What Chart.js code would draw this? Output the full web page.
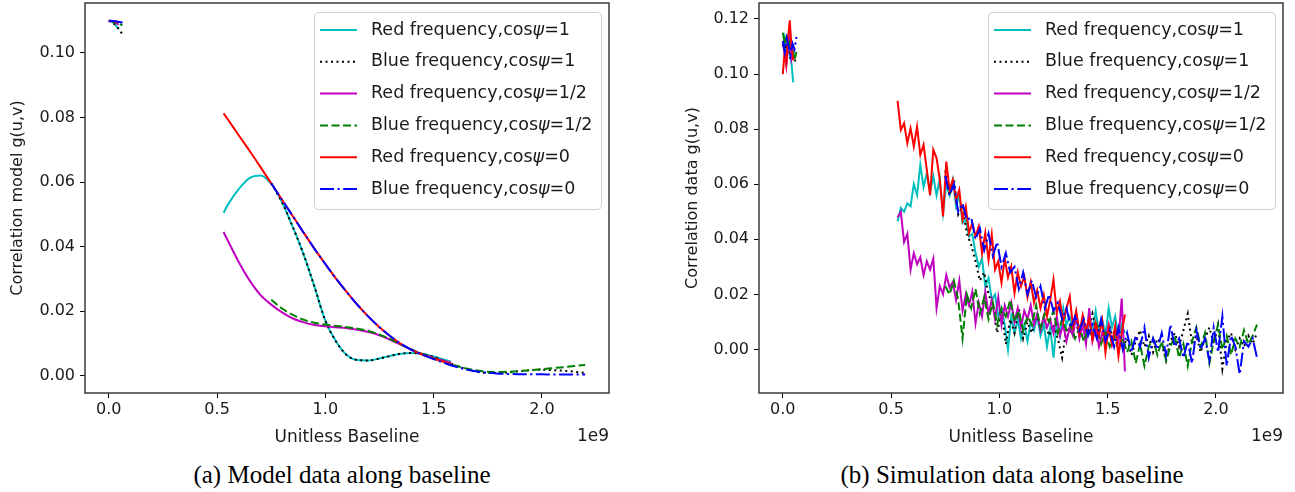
<!DOCTYPE html>
<html><head><meta charset="utf-8">
<script src="https://cdn.jsdelivr.net/npm/chart.js@4.4.0/dist/chart.umd.min.js"></script>
<style>
html,body{margin:0;padding:0;background:#fff;width:1295px;height:492px;overflow:hidden;position:relative;}
#c1{position:absolute;left:0;top:0;width:640px;height:450px;}
#c2{position:absolute;left:672px;top:0;width:623px;height:450px;}
.cap{position:absolute;top:461px;font-family:"Liberation Serif",serif;font-size:25px;color:#000;white-space:nowrap;transform:translateX(-50%);line-height:28px;}
</style></head><body>
<canvas id="c1" width="640" height="450"></canvas>
<canvas id="c2" width="623" height="450"></canvas>
<div class="cap" style="left:342px">(a) Model data along baseline</div>
<div class="cap" style="left:1012px">(b) Simulation data along baseline</div>
<script>
// ---------- labels / ticks ----------
const SERIES_LABELS = ['Red frequency,cosψ=1','Blue frequency,cosψ=1','Red frequency,cosψ=1/2','Blue frequency,cosψ=1/2','Red frequency,cosψ=0','Blue frequency,cosψ=0'];
const X_TICKS = [0, 0.5, 1.0, 1.5, 2.0];          // in units of 1e9
const Y_TICKS_MODEL = [0, 0.02, 0.04, 0.06, 0.08, 0.10];
const Y_TICKS_SIM = [0, 0.02, 0.04, 0.06, 0.08, 0.10, 0.12];

// ---------- model data (x in 1e9) ----------
const MODEL_SMALL_RED_X  = [0, 0.015, 0.03, 0.045];
const MODEL_SMALL_BLUE_X = [0, 0.021, 0.042, 0.063];
const MODEL_RED_X  = [0.53,0.55,0.6,0.65,0.7,0.75,0.8,0.85,0.9,0.95,1.0,1.05,1.1,1.15,1.2,1.25,1.3,1.35,1.4,1.45,1.5,1.55,1.58];
const MODEL_BLUE_X = [0.75,0.8,0.85,0.9,0.95,1.0,1.05,1.1,1.15,1.2,1.25,1.3,1.35,1.4,1.45,1.5,1.55,1.6,1.65,1.7,1.75,1.8,1.85,1.9,1.95,2.0,2.05,2.1,2.15,2.2];

const MODEL_SMALL_R1  = [0.1100,0.1096,0.1087,0.1074];
const MODEL_SMALL_B1  = [0.1100,0.1092,0.1078,0.1058];
const MODEL_SMALL_R12 = [0.1100,0.1098,0.1094,0.1088];
const MODEL_SMALL_B12 = [0.1100,0.1097,0.1092,0.1086];
const MODEL_SMALL_R0  = [0.1100,0.1099,0.1098,0.1096];
const MODEL_SMALL_B0  = [0.1100,0.1099,0.1097,0.1094];

const MODEL_R1  = [0.0505,0.0530,0.0578,0.0612,0.0620,0.0594,0.0537,0.0460,0.0375,0.0275,0.0170,0.0105,0.0063,0.0048,0.0047,0.0053,0.0061,0.0068,0.0070,0.0067,0.0059,0.0049,0.0043];
const MODEL_R12 = [0.0445,0.0418,0.0352,0.0295,0.0250,0.0220,0.0196,0.0177,0.0165,0.0157,0.0153,0.0150,0.0147,0.0142,0.0135,0.0125,0.0111,0.0095,0.0080,0.0066,0.0055,0.0045,0.0040];
const MODEL_R0  = [0.0813,0.0794,0.0745,0.0697,0.0647,0.0596,0.0545,0.0494,0.0443,0.0393,0.0346,0.0300,0.0258,0.0218,0.0182,0.0150,0.0122,0.0098,0.0079,0.0064,0.0052,0.0042,0.0037];
const MODEL_B1  = [0.0596,0.0537,0.0460,0.0375,0.0275,0.0170,0.0105,0.0063,0.0048,0.0047,0.0053,0.0061,0.0068,0.0070,0.0067,0.0058,0.0045,0.0032,0.0020,0.0012,0.0008,0.0008,0.0010,0.0014,0.0017,0.0018,0.0017,0.0015,0.0012,0.0008];
const MODEL_B12 = [0.0235,0.0208,0.0188,0.0173,0.0164,0.0158,0.0154,0.0150,0.0145,0.0138,0.0127,0.0113,0.0096,0.0080,0.0066,0.0054,0.0042,0.0031,0.0022,0.0016,0.0012,0.0011,0.0012,0.0014,0.0017,0.0020,0.0023,0.0026,0.0030,0.0033];
const MODEL_B0  = [0.0596,0.0545,0.0494,0.0443,0.0393,0.0346,0.0300,0.0258,0.0218,0.0182,0.0150,0.0122,0.0098,0.0079,0.0064,0.0051,0.0039,0.0028,0.0019,0.0013,0.0009,0.0006,0.0005,0.0004,0.0004,0.0004,0.0003,0.0003,0.0003,0.0003];

// ---------- simulation data ----------
const SIM_SMALL_RED_X  = [0, 0.008, 0.016, 0.024, 0.032, 0.040, 0.048];
const SIM_SMALL_BLUE_X = [0, 0.009, 0.018, 0.027, 0.036, 0.045, 0.054, 0.063];
const SIM_SMALL_R1  = [0.110,0.113,0.106,0.112,0.107,0.104,0.097];
const SIM_SMALL_R12 = [0.111,0.108,0.103,0.109,0.113,0.106,0.110];
const SIM_SMALL_R0  = [0.100,0.108,0.104,0.113,0.1195,0.110,0.105];
const SIM_SMALL_B1  = [0.110,0.113,0.107,0.111,0.105,0.109,0.1045,0.106];
const SIM_SMALL_B12 = [0.115,0.111,0.114,0.109,0.113,0.110,0.105,0.108];
const SIM_SMALL_B0  = [0.112,0.108,0.113,0.110,0.107,0.111,0.109,0.1135];

const SIM_RED_X = [0.53,0.545,0.56,0.575,0.59,0.605,0.62,0.635,0.65,0.665,0.68,0.695,0.71,0.725,0.74,0.755,0.77,0.785,0.8,0.815,0.83,0.845,0.86,0.875,0.89,0.905,0.92,0.935,0.95,0.965,0.98,0.995,1.01,1.025,1.04,1.055,1.07,1.085,1.1,1.115,1.13,1.145,1.16,1.175,1.19,1.205,1.22,1.235,1.25,1.265,1.28,1.295,1.31,1.325,1.34,1.355,1.37,1.385,1.4,1.415,1.43,1.445,1.46,1.475,1.49,1.505,1.52,1.535,1.55,1.565,1.58];
const SIM_BLUE_X = [0.75,0.77,0.79,0.81,0.83,0.85,0.87,0.89,0.91,0.93,0.95,0.97,0.99,1.01,1.03,1.05,1.07,1.09,1.11,1.13,1.15,1.17,1.19,1.21,1.23,1.25,1.27,1.29,1.31,1.33,1.35,1.37,1.39,1.41,1.43,1.45,1.47,1.49,1.51,1.53,1.55,1.57,1.59,1.61,1.63,1.65,1.67,1.69,1.71,1.73,1.75,1.77,1.79,1.81,1.83,1.85,1.87,1.89,1.91,1.93,1.95,1.97,1.99,2.01,2.03,2.05,2.07,2.09,2.11,2.13,2.15,2.17,2.19];

const SIM_R1 = [0.0465,0.0514,0.0500,0.0530,0.0520,0.0600,0.0560,0.0670,0.0590,0.0640,0.0570,0.0630,0.0560,0.0620,0.0496,0.0600,0.0560,0.0615,0.0520,0.0560,0.0460,0.0470,0.0410,0.0420,0.0350,0.0300,0.0330,0.0230,0.0260,0.0180,0.0200,0.0120,0.0150,0.0090,0.0000,0.0120,0.0060,0.0110,0.0040,0.0090,0.0030,0.0100,0.0070,0.0120,0.0050,0.0090,0.0010,0.0080,-0.0030,0.0100,0.0050,0.0150,0.0090,0.0120,0.0060,0.0130,0.0050,0.0110,0.0040,0.0100,0.0070,0.0140,0.0060,0.0110,0.0050,0.0150,0.0080,0.0120,0.0040,0.0090,0.0060];
const SIM_R12 = [0.0480,0.0500,0.0390,0.0420,0.0290,0.0350,0.0310,0.0335,0.0270,0.0320,0.0290,0.0330,0.0150,0.0230,0.0200,0.0270,0.0225,0.0245,0.0180,0.0250,0.0140,0.0200,0.0160,0.0210,0.0095,0.0170,0.0120,0.0210,0.0130,0.0180,0.0110,0.0190,0.0090,0.0160,0.0120,0.0170,0.0100,0.0150,0.0080,0.0140,0.0110,0.0160,0.0090,0.0130,0.0070,0.0120,0.0080,0.0110,0.0060,0.0120,0.0050,0.0090,0.0030,0.0080,0.0050,0.0130,0.0040,0.0090,0.0020,0.0150,0.0030,0.0080,0.0010,0.0060,0.0040,0.0090,0.0020,0.0070,0.0030,0.0185,-0.0080];
const SIM_R0 = [0.0903,0.0797,0.0821,0.0749,0.0803,0.0737,0.0809,0.0707,0.0743,0.0652,0.0560,0.0725,0.0695,0.0616,0.0483,0.0682,0.0580,0.0616,0.0543,0.0580,0.0471,0.0519,0.0423,0.0459,0.0411,0.0447,0.0350,0.0423,0.0326,0.0417,0.0290,0.0320,0.0242,0.0330,0.0262,0.0302,0.0205,0.0280,0.0230,0.0265,0.0190,0.0245,0.0170,0.0215,0.0150,0.0198,0.0120,0.0180,0.0254,0.0133,0.0175,0.0100,0.0150,0.0193,0.0085,0.0140,0.0060,0.0125,0.0070,0.0110,0.0036,0.0095,0.0050,0.0105,-0.0011,0.0080,0.0020,0.0085,-0.0024,0.0060,0.0127];
const SIM_B1 = [0.0650,0.0560,0.0620,0.0490,0.0520,0.0420,0.0380,0.0320,0.0250,0.0280,0.0200,0.0160,0.0060,0.0140,0.0020,0.0110,0.0060,0.0150,0.0040,0.0100,0.0060,0.0120,0.0080,0.0100,0.0050,0.0090,0.0040,-0.0030,0.0080,0.0060,0.0110,0.0050,0.0090,0.0070,0.0130,0.0060,0.0100,0.0040,0.0080,0.0030,0.0060,0.0010,0.0040,-0.0020,0.0030,0.0070,0.0010,0.0050,-0.0010,0.0040,0.0020,-0.0040,0.0030,0.0060,0.0010,0.0070,0.0130,0.0020,0.0050,-0.0010,0.0040,0.0080,0.0020,0.0090,-0.0070,0.0030,0.0060,0.0000,0.0040,0.0010,0.0050,0.0020,0.0060];
const SIM_B12 = [0.0230,0.0200,0.0250,0.0180,0.0040,0.0200,0.0150,0.0220,0.0130,0.0190,0.0110,0.0170,0.0090,0.0150,0.0120,0.0180,0.0100,0.0140,0.0070,0.0120,0.0090,0.0160,0.0080,0.0130,0.0100,0.0140,0.0060,0.0110,0.0070,0.0090,0.0040,0.0080,0.0030,0.0070,0.0050,0.0090,0.0020,0.0060,0.0010,0.0050,0.0000,0.0040,-0.0010,0.0030,-0.0050,0.0020,-0.0060,0.0010,0.0040,-0.0020,0.0030,-0.0040,0.0010,0.0050,-0.0030,0.0020,-0.0060,0.0030,0.0080,0.0010,0.0060,-0.0050,0.0030,0.0090,0.0000,0.0050,-0.0020,0.0040,0.0010,0.0070,0.0020,0.0050,0.0090];
const SIM_B0 = [0.0630,0.0560,0.0600,0.0500,0.0530,0.0470,0.0480,0.0400,0.0440,0.0360,0.0420,0.0340,0.0390,0.0300,0.0350,0.0280,0.0300,0.0220,0.0280,0.0200,0.0250,0.0190,0.0230,0.0150,0.0200,0.0140,0.0170,0.0110,0.0150,0.0080,0.0120,0.0070,0.0110,0.0050,0.0090,0.0040,0.0110,0.0030,0.0070,0.0010,0.0080,0.0000,0.0060,-0.0010,0.0050,0.0010,0.0080,-0.0030,0.0040,0.0000,0.0060,-0.0020,0.0090,0.0010,0.0040,-0.0030,0.0030,-0.0050,0.0070,0.0000,0.0040,-0.0040,0.0080,-0.0010,0.0120,-0.0060,0.0050,0.0010,-0.0090,0.0030,0.0010,0.0040,-0.0030];

// ---------- styles ----------
const COLORS = ['#00bfbf','#000000','#bf00bf','#008000','#ff0000','#0000ff'];
const DASHES = [[], [2,3.5], [], [8,3.5], [], [14,3.5,2.2,3.5]];
const TEXT_COLOR = '#1a1a1a';
const FONT = 'DejaVu Sans';
const LEGEND_FONT_SIZE = 17.5;

function seg(xs, ys){ return xs.map((x,i)=>({x:x, y:ys[i]})); }
function joined(sx, sy, mx, my){
  return seg(sx, sy).concat([{x:(sx[sx.length-1]+mx[0])/2, y:null}], seg(mx, my));
}
function makeDatasets(list, smooth){
  return list.map((d,i)=>({
    label: SERIES_LABELS[i],
    data: d,
    borderColor: COLORS[i],
    backgroundColor: COLORS[i],
    borderDash: DASHES[i],
    borderWidth: 2,
    pointRadius: 0,
    fill: false,
    spanGaps: false,
    cubicInterpolationMode: smooth ? 'monotone' : 'default',
    tension: 0,
    order: 6 - i
  }));
}

const framePlugin = {
  id:'frame',
  afterDatasetsDraw(chart){
    const {ctx, chartArea:a} = chart;
    ctx.save();
    ctx.strokeStyle = '#3a3a3a';
    ctx.lineWidth = 1.5;
    ctx.strokeRect(a.left, a.top, a.right - a.left, a.bottom - a.top);
    // legend
    const bw = 287, bh = 197;
    const bx = a.right - 8 - bw, by = a.top + 9;
    ctx.beginPath();
    ctx.roundRect(bx + 0.5, by + 0.5, bw, bh, 4);
    ctx.fillStyle = 'rgba(255,255,255,0.85)';
    ctx.fill();
    ctx.strokeStyle = '#d0d0d0';
    ctx.lineWidth = 1;
    ctx.stroke();
    const f = LEGEND_FONT_SIZE + 'px "' + FONT + '"';
    const fi = 'italic ' + LEGEND_FONT_SIZE + 'px "' + FONT + '"';
    chart.data.datasets.forEach((ds, i) => {
      const y = by + 18 + i * 31.8;
      ctx.beginPath();
      ctx.setLineDash(ds.borderDash);
      ctx.strokeStyle = ds.borderColor;
      ctx.lineWidth = 2;
      ctx.moveTo(bx + 6, y);
      ctx.lineTo(bx + 43, y);
      ctx.stroke();
      ctx.setLineDash([]);
      const parts = ds.label.split('ψ');
      let tx = bx + 57;
      ctx.fillStyle = TEXT_COLOR;
      ctx.textBaseline = 'middle';
      ctx.textAlign = 'left';
      ctx.font = f;
      ctx.fillText(parts[0], tx, y);
      tx += ctx.measureText(parts[0]).width;
      ctx.font = fi;
      ctx.fillText('ψ', tx, y);
      tx += ctx.measureText('ψ').width;
      ctx.font = f;
      ctx.fillText(parts[1], tx, y);
    });
    // offset text
    ctx.font = '17px "' + FONT + '"';
    ctx.textAlign = 'right';
    ctx.textBaseline = 'middle';
    ctx.fillStyle = TEXT_COLOR;
    ctx.fillText('1e9', a.right, 437);
    ctx.restore();
  }
};

function makeChart(id, datasets, yTicks, yMin, yMax, yTitle, yWidth, yTitlePad, padRight){
  return new Chart(document.getElementById(id), {
    type:'line',
    data:{datasets},
    options:{
      responsive:false, animation:false, devicePixelRatio:1,
      layout:{padding:{left:0, right:padRight, top:3, bottom:0}},
      plugins:{legend:{display:false}, tooltip:{enabled:false}},
      scales:{
        x:{
          type:'linear', min:-0.11, max:2.31,
          afterBuildTicks:s=>{ s.ticks = X_TICKS.map(v=>({value:v})); },
          afterFit:s=>{ s.height = 57; s.paddingLeft = 0; s.paddingRight = 0; },
          ticks:{callback:v=>Number(v).toFixed(1), font:{family:FONT, size:16}, color:TEXT_COLOR, padding:2, maxRotation:0, autoSkip:false},
          grid:{drawOnChartArea:false, drawTicks:true, tickLength:5, tickColor:'#000', tickWidth:1},
          border:{display:false},
          title:{display:true, text:'Unitless Baseline', font:{family:FONT, size:17}, color:TEXT_COLOR, padding:{top:0, bottom:2}}
        },
        y:{
          type:'linear', min:yMin, max:yMax,
          afterBuildTicks:s=>{ s.ticks = yTicks.map(v=>({value:v})); },
          afterFit:s=>{ s.width = yWidth; s.paddingTop = 0; s.paddingBottom = 0; },
          ticks:{callback:v=>Number(v).toFixed(2), font:{family:FONT, size:16}, color:TEXT_COLOR, padding:5, autoSkip:false},
          grid:{drawOnChartArea:false, drawTicks:true, tickLength:5, tickColor:'#000', tickWidth:1},
          border:{display:false},
          title:{display:true, text:yTitle, font:{family:FONT, size:16}, color:TEXT_COLOR, padding:{top:yTitlePad, bottom:0}}
        }
      }
    },
    plugins:[framePlugin]
  });
}

const modelData = [
  joined(MODEL_SMALL_RED_X,  MODEL_SMALL_R1,  MODEL_RED_X,  MODEL_R1),
  joined(MODEL_SMALL_BLUE_X, MODEL_SMALL_B1,  MODEL_BLUE_X, MODEL_B1),
  joined(MODEL_SMALL_RED_X,  MODEL_SMALL_R12, MODEL_RED_X,  MODEL_R12),
  joined(MODEL_SMALL_BLUE_X, MODEL_SMALL_B12, MODEL_BLUE_X, MODEL_B12),
  joined(MODEL_SMALL_RED_X,  MODEL_SMALL_R0,  MODEL_RED_X,  MODEL_R0),
  joined(MODEL_SMALL_BLUE_X, MODEL_SMALL_B0,  MODEL_BLUE_X, MODEL_B0)
];
const simData = [
  joined(SIM_SMALL_RED_X,  SIM_SMALL_R1,  SIM_RED_X,  SIM_R1),
  joined(SIM_SMALL_BLUE_X, SIM_SMALL_B1,  SIM_BLUE_X, SIM_B1),
  joined(SIM_SMALL_RED_X,  SIM_SMALL_R12, SIM_RED_X,  SIM_R12),
  joined(SIM_SMALL_BLUE_X, SIM_SMALL_B12, SIM_BLUE_X, SIM_B12),
  joined(SIM_SMALL_RED_X,  SIM_SMALL_R0,  SIM_RED_X,  SIM_R0),
  joined(SIM_SMALL_BLUE_X, SIM_SMALL_B0,  SIM_BLUE_X, SIM_B0)
];

makeChart('c1', makeDatasets(modelData, true), Y_TICKS_MODEL, -0.0054, 0.1155, 'Correlation model g(u,v)', 85, 8, 31);
makeChart('c2', makeDatasets(simData, false), Y_TICKS_SIM, -0.0158, 0.1258, 'Correlation data g(u,v)', 87, 11.5, 12);
</script>
</body></html>
